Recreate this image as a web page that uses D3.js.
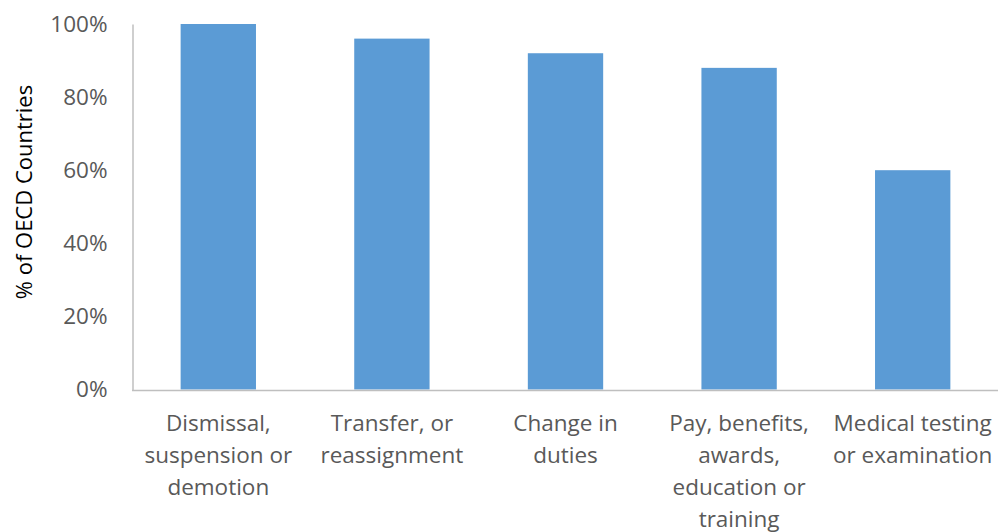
<!DOCTYPE html>
<html>
<head>
<meta charset="utf-8">
<script src="https://cdn.jsdelivr.net/npm/d3@7"></script>
<style>
  html, body { margin: 0; padding: 0; background: #fff; }
  svg { display: block; font-family: "Open Sans", sans-serif; }
</style>
</head>
<body>
<svg id="chart" width="998" height="532"></svg>
<script>
// Categories (each entry is the wrapped lines of its label)
const categories = [
  ["Dismissal,", "suspension or", "demotion"],
  ["Transfer, or", "reassignment"],
  ["Change in", "duties"],
  ["Pay, benefits,", "awards,", "education or", "training"],
  ["Medical testing", "or examination"]
];
// Share of OECD countries, in percent
const values = [100, 96, 92, 88, 60];
const yTicks = [0, 20, 40, 60, 80, 100];
const yTitle = "% of OECD Countries";

const svg = d3.select("#chart");
const keys = categories.map((c, i) => i);

const x = d3.scaleBand()
  .domain(keys)
  .range([131.5, 999.5])
  .paddingInner(0.566)
  .paddingOuter(0.283);

const y = d3.scaleLinear()
  .domain([0, 100])
  .range([389.5, 24]);

// Bars
svg.append("g")
  .selectAll("rect")
  .data(values)
  .join("rect")
  .attr("x", (d, i) => x(i))
  .attr("y", d => y(d))
  .attr("width", x.bandwidth())
  .attr("height", d => y(0) - y(d))
  .attr("fill", "#5b9bd5");

// Y axis
const yAxis = svg.append("g")
  .attr("transform", "translate(132.5,0)")
  .call(d3.axisLeft(y).tickValues(yTicks).tickSize(0).tickPadding(25)
    .tickFormat(d => d + "%"));
yAxis.select(".domain").attr("stroke", "#bfbfbf").attr("stroke-width", 1.5);
yAxis.selectAll("text")
  .attr("fill", "#595959")
  .style("font-size", "22.5px")
  .style("font-family", "'Open Sans', sans-serif");

// X axis
const xAxis = svg.append("g")
  .attr("transform", "translate(0,390)")
  .call(d3.axisBottom(x).tickSize(0).tickFormat(""));
xAxis.select(".domain").attr("stroke", "#bfbfbf").attr("stroke-width", 1.5);

// Category labels, multi-line
const labels = svg.append("g")
  .selectAll("text")
  .data(categories)
  .join("text")
  .attr("text-anchor", "middle")
  .attr("fill", "#595959")
  .style("font-size", "22.5px")
  .attr("transform", (d, i) => `translate(${x(i) + x.bandwidth() / 2},431)`);
labels.selectAll("tspan")
  .data(d => d)
  .join("tspan")
  .attr("x", 0)
  .attr("y", (d, j) => j * 32)
  .text(d => d);

// Y title
svg.append("text")
  .attr("transform", "translate(32,192) rotate(-90)")
  .attr("text-anchor", "middle")
  .attr("fill", "#000")
  .style("font-size", "22px")
  .text(yTitle);
</script>
</body>
</html>
